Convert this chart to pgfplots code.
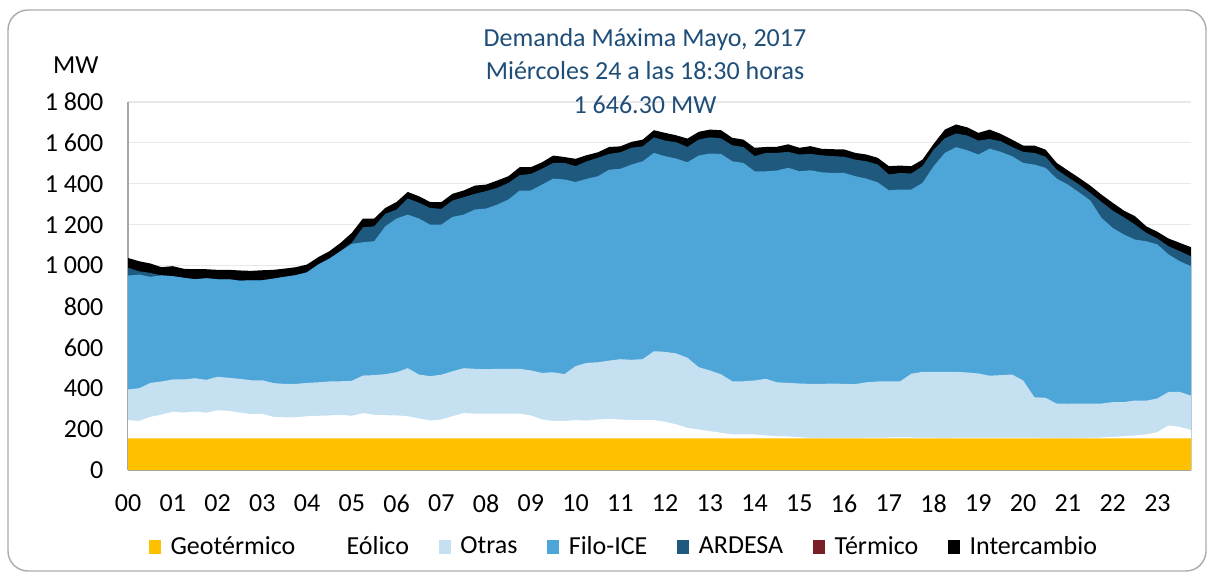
\documentclass[border=0pt]{standalone}
\usepackage{fontspec}
\setmainfont{Carlito}
\usepackage{pgfplots}
\usepackage{pgfplotstable}
\pgfplotsset{compat=1.18}
\definecolor{geo}{RGB}{255,192,0}
\definecolor{otras}{RGB}{196,224,241}
\definecolor{filo}{RGB}{78,165,216}
\definecolor{ardesa}{RGB}{31,90,126}
\definecolor{termico}{RGB}{122,30,40}
\definecolor{titlec}{RGB}{31,78,121}

% cumulative tops of the stacked layers (MW), 15-minute steps
\pgfplotstableread{
k b1 b2 b3 b4 b5 b6
0 155 244 394 951 989 1037
1 155 240 400 956 972 1021
2 155 260 426 945 964 1010
3 155 271 433 952 952 992
4 155 285 443 948 948 997
5 155 281 443 940 940 984
6 155 286 449 933 933 982
7 155 280 441 938 938 982
8 155 292 456 933 933 979
9 155 289 451 933 933 979
10 155 281 446 926 926 976
11 155 273 439 928 928 974
12 155 275 439 928 928 977
13 155 260 425 936 936 979
14 155 258 421 945 945 985
15 155 258 421 953 953 992
16 155 263 426 967 967 1005
17 155 265 429 1005 1005 1041
18 155 267 433 1034 1034 1070
19 155 270 434 1070 1072 1111
20 155 265 436 1106 1112 1160
21 155 278 462 1114 1187 1230
22 155 270 464 1119 1192 1230
23 155 268 469 1192 1253 1282
24 155 267 478 1230 1274 1311
25 155 263 498 1249 1328 1360
26 155 252 467 1230 1307 1339
27 155 242 459 1200 1282 1311
28 155 247 466 1200 1277 1310
29 155 263 483 1238 1318 1351
30 155 278 498 1249 1334 1367
31 155 276 495 1274 1351 1391
32 155 276 493 1279 1364 1396
33 155 276 495 1298 1380 1416
34 155 276 495 1323 1404 1437
35 155 276 495 1367 1442 1481
36 155 267 487 1367 1448 1481
37 155 247 475 1396 1473 1505
38 155 240 478 1425 1502 1538
39 155 240 469 1421 1502 1531
40 155 244 508 1409 1486 1522
41 155 242 524 1424 1510 1540
42 155 247 527 1437 1527 1554
43 155 250 535 1469 1546 1580
44 155 247 542 1473 1554 1583
45 155 244 539 1494 1576 1605
46 155 244 542 1510 1583 1616
47 155 244 581 1551 1627 1662
48 155 236 578 1535 1611 1649
49 155 223 570 1523 1603 1637
50 155 206 549 1505 1580 1621
51 155 198 503 1538 1616 1654
52 155 190 487 1548 1627 1665
53 155 182 468 1546 1622 1662
54 155 174 434 1510 1588 1625
55 155 174 434 1502 1580 1616
56 155 174 438 1461 1535 1576
57 155 169 446 1461 1551 1580
58 155 165 429 1465 1551 1581
59 155 164 426 1478 1556 1593
60 155 160 423 1461 1543 1576
61 155 157 421 1466 1546 1584
62 155 156 421 1456 1539 1571
63 155 157 423 1453 1535 1569
64 155 157 421 1453 1532 1568
65 155 157 420 1437 1518 1551
66 155 158 429 1425 1510 1543
67 155 158 433 1407 1494 1527
68 155 159 433 1368 1445 1486
69 155 159 433 1372 1453 1489
70 155 159 471 1372 1450 1486
71 155 158 480 1404 1486 1518
72 155 158 480 1486 1567 1595
73 155 157 480 1551 1622 1665
74 155 158 480 1579 1646 1690
75 155 158 477 1564 1636 1676
76 155 158 472 1543 1611 1649
77 155 158 461 1572 1619 1665
78 155 158 464 1556 1608 1644
79 155 158 467 1535 1580 1616
80 155 158 438 1502 1556 1587
81 155 158 356 1494 1551 1587
82 155 157 353 1478 1532 1567
83 155 156 325 1425 1469 1502
84 155 156 324 1396 1432 1465
85 155 157 325 1358 1396 1429
86 155 158 325 1318 1355 1391
87 155 159 325 1233 1311 1347
88 155 162 332 1184 1269 1307
89 155 165 332 1152 1236 1269
90 155 169 340 1127 1200 1241
91 155 174 339 1119 1160 1192
92 155 185 350 1103 1132 1165
93 155 218 382 1054 1094 1132
94 155 211 382 1021 1070 1111
95 155 195 364 997 1045 1090
}\data

\begin{document}
\begin{tikzpicture}
\useasboundingbox (-64bp,-53bp) rectangle (543.5bp,235bp);
\fill[white] (-64bp,-53bp) rectangle (543.5bp,235bp);
\draw[black!33, line width=0.7bp, rounded corners=10bp] (-60bp,-50.5bp) rectangle (539bp,230bp);
\begin{axis}[
  at={(0,0)}, anchor=south west,
  width=531.5bp, height=184bp, scale only axis,
  xmin=0, xmax=95, ymin=0, ymax=1800,
  axis lines*=left,
  axis line style={black!35, line width=0.6bp},
  xtick={0,4,...,92},
  xticklabels={00,01,02,03,04,05,06,07,08,09,10,11,12,13,14,15,16,17,18,19,20,21,22,23},
  xtick style={draw=none},
  extra x ticks={0.5,1.5,...,94.5},
  extra x tick labels={},
  extra x tick style={grid=none, tick align=outside, major tick length=2.6bp,
    tick style={black!35, line width=0.5bp}},
  ytick={0,200,...,1800},
  yticklabels={0,200,400,600,800,1 000,1 200,1 400,1 600,1 800},
  ytick style={draw=none},
  ymajorgrids,
  grid style={black!9, line width=0.6bp},
  tick label style={font=\fontsize{13bp}{15bp}\selectfont, black},
  yticklabel style={xshift=-8.8bp},
  xticklabel style={yshift=-9bp},
  legend columns=7,
  legend style={at={(axis description cs:0.4676,-0.209)}, anchor=center,
    draw=none, fill=none, inner sep=0pt,
    font=\fontsize{13bp}{15bp}\selectfont,
    /tikz/every odd column/.append style={column sep=2.7bp},
    /tikz/every even column/.append style={column sep=13bp}},
  legend image code/.code={\fill[#1] (0bp,-3.6bp) rectangle (6bp,3.6bp);},
]
\addlegendimage{fill=geo, draw=none}\addlegendentry{Geotérmico}
\addlegendimage{fill=white, draw=none}\addlegendentry{Eólico}
\addlegendimage{fill=otras, draw=none}\addlegendentry{Otras}
\addlegendimage{fill=filo, draw=none}\addlegendentry{Filo-ICE}
\addlegendimage{fill=ardesa, draw=none}\addlegendentry{ARDESA}
\addlegendimage{fill=termico, draw=none}\addlegendentry{Térmico}
\addlegendimage{fill=black, draw=none}\addlegendentry{Intercambio}

\addplot[fill=black, draw=none, forget plot] table[x=k, y=b6] {\data} \closedcycle;
\addplot[fill=ardesa, draw=none, forget plot] table[x=k, y=b5] {\data} \closedcycle;
\addplot[fill=filo, draw=none, forget plot] table[x=k, y=b4] {\data} \closedcycle;
\addplot[fill=otras, draw=none, forget plot] table[x=k, y=b3] {\data} \closedcycle;
\addplot[fill=white, draw=none, forget plot] table[x=k, y=b2] {\data} \closedcycle;
\addplot[fill=geo, draw=none, forget plot] table[x=k, y=b1] {\data} \closedcycle;
\end{axis}
\node[anchor=base, text=titlec, font=\fontsize{13bp}{15bp}\selectfont] at (258.5bp,211.6bp) {Demanda Máxima Mayo, 2017};
\node[anchor=base, text=titlec, font=\fontsize{13bp}{15bp}\selectfont] at (258.5bp,195bp) {Miércoles 24 a las 18:30 horas};
\node[anchor=base, text=titlec, font=\fontsize{13bp}{15bp}\selectfont] at (258.5bp,178.3bp) {1 646.30 MW};
\node[anchor=base, font=\fontsize{13bp}{15bp}\selectfont] at (-26.1bp,198.3bp) {MW};
\end{tikzpicture}
\end{document}
